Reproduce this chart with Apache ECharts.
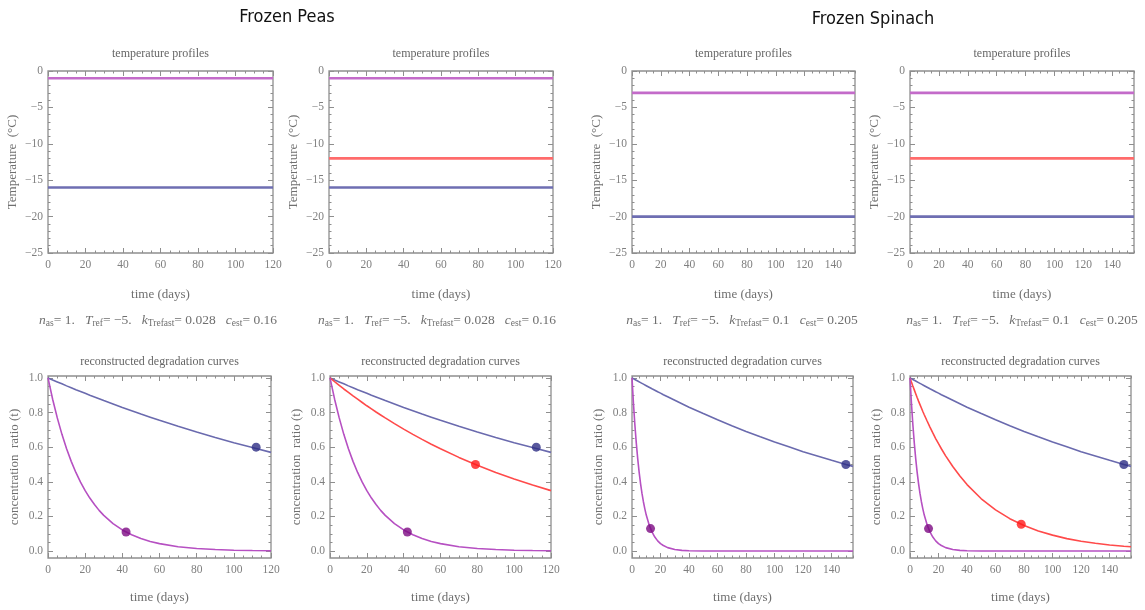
<!DOCTYPE html>
<html><head><meta charset="utf-8">
<script src="https://cdn.jsdelivr.net/npm/echarts@6/dist/echarts.min.js"></script>
<style>html,body{margin:0;padding:0;background:#fff}#c{width:1145px;height:610px}</style>
</head><body><div id="c"></div>
<script>
// ---------------- DATA ----------------
const groupTitles = ['Frozen Peas', 'Frozen Spinach'];
const paramPeas = ['1.', '\u22125.', '0.028', '0.16'];
const paramSpinach = ['1.', '\u22125.', '0.1', '0.205'];

// temperature profiles (constant storage temperatures)
const peasTempDays = [0, 120];
const peasTempPurple = [-1, -1];
const peasTempRed = [-12, -12];
const peasTempBlue = [-16, -16];
const spinachTempDays = [0, 155];
const spinachTempPurple = [-3, -3];
const spinachTempRed = [-12, -12];
const spinachTempBlue = [-20, -20];

// reconstructed degradation curves
const peasDays = [0,2.5,5,7.5,10,12.5,15,17.5,20,22.5,25,27.5,30,35,40,45,50,55,60,70,80,90,100,110,120];
const peasBlue = [1,0.988,0.977,0.966,0.954,0.943,0.932,0.922,0.911,0.900,0.890,0.880,0.869,0.849,0.829,0.810,0.791,0.773,0.755,0.721,0.688,0.656,0.626,0.598,0.570];
const peasRed = [1,0.978,0.957,0.936,0.916,0.896,0.877,0.858,0.839,0.821,0.803,0.786,0.769,0.736,0.704,0.674,0.645,0.617,0.591,0.541,0.496,0.454,0.416,0.381,0.349];
const peasPurple = [1,0.877,0.769,0.674,0.591,0.518,0.454,0.398,0.349,0.306,0.269,0.235,0.206,0.159,0.122,0.094,0.072,0.055,0.043,0.025,0.015,0.009,0.005,0.003,0.002];
const peasBlueDot = [112, 0.60];
const peasRedDot = [79, 0.50];
const peasPurpleDot = [42, 0.11];

const spinachDays = [0,1,2,3,4,5,6,7,8,9,10,12,14,16,18,20,22,25,30,35,40,50,60,70,80,90,100,110,120,130,140,150,155];
const spinachBlue = [1,0.995,0.991,0.986,0.982,0.977,0.973,0.968,0.964,0.959,0.955,0.946,0.937,0.929,0.920,0.912,0.903,0.891,0.871,0.851,0.831,0.794,0.758,0.724,0.691,0.660,0.630,0.602,0.574,0.549,0.524,0.500,0.489];
const spinachRed = [1,0.976,0.953,0.931,0.909,0.887,0.866,0.846,0.826,0.806,0.787,0.751,0.716,0.682,0.650,0.620,0.591,0.550,0.488,0.433,0.384,0.302,0.238,0.187,0.148,0.116,0.092,0.072,0.057,0.045,0.035,0.028,0.025];
const spinachPurple = [1,0.855,0.731,0.625,0.534,0.456,0.390,0.333,0.285,0.244,0.208,0.152,0.111,0.081,0.059,0.043,0.032,0.020,0.009,0.004,0.002,0,0,0,0,0,0,0,0,0,0,0,0];
const spinachBlueDot = [150, 0.50];
const spinachRedDot = [78, 0.155];
const spinachPurpleDot = [13, 0.13];

// tick labels
const peasXTicks = [0,20,40,60,80,100,120];
const spinachXTicks = [0,20,40,60,80,100,120,140];
const tempYTicks = [-25,-20,-15,-10,-5,0];
const concYTicks = [0,0.2,0.4,0.6,0.8,1.0];

// ---------------- STYLE / LAYOUT ----------------
const SERIF = '"Liberation Serif","DejaVu Serif",serif';
const C = {
  tPurple:'#c36bc9', tRed:'#ff6b6b', tBlue:'#6e6eb2',
  dPurple:'#b650c2', dRed:'#ff4a4a', dBlue:'#6a6aae',
  mPurple:'#7c0a82', mRed:'#ff1a1a', mBlue:'#2e2e84',
  text:'#7f7f7f', frame:'#8e8e8e'
};
const grids=[], xAxes=[], yAxes=[], series=[], graphics=[];
function steps(a,b,s){const r=[];for(let v=a;v<=b+1e-9;v+=s)r.push(+v.toFixed(4));return r;}
const minus = v => String(v).replace('-', '\u2212');

function addPanel(rect, xMax, xMajor, xMinorStep, yMin, yMax, yMajor, yMinorStep, yName, yFmt, yGap, xGap) {
  const g = grids.length;
  grids.push({left:rect[0], top:rect[1], width:rect[2], height:rect[3], show:true,
    borderColor:C.frame, borderWidth:1.3, backgroundColor:'rgba(0,0,0,0)'});
  const xMinor = steps(0, xMax, xMinorStep);
  const yMinor = steps(yMin<0&&yMin>-1 ? 0 : yMin, yMax, yMinorStep);
  const tickStyle = {color:C.frame, width:1};
  const noLine = {show:false, onZero:false};
  const xi = xAxes.length;
  ['bottom','top'].forEach((pos, k) => {
    xAxes.push({type:'value', gridIndex:g, min:0, max:xMax, position:pos,
      splitLine:{show:false}, axisLine:noLine,
      axisTick:{show:true, inside:true, length:5, customValues:xMajor, lineStyle:tickStyle},
      axisLabel:{show:k===0, customValues:xMajor, color:C.text, fontFamily:SERIF, fontSize:11.5, margin:6},
      name: k===0 ? 'time (days)' : '', nameLocation:'middle', nameGap:xGap,
      nameTextStyle:{color:'#6f6f6f', fontFamily:SERIF, fontSize:13}});
    xAxes.push({type:'value', gridIndex:g, min:0, max:xMax, position:pos,
      splitLine:{show:false}, axisLine:noLine, axisLabel:{show:false},
      axisTick:{show:true, inside:true, length:2.5, customValues:xMinor, lineStyle:tickStyle}});
  });
  const yi = yAxes.length;
  ['left','right'].forEach((pos, k) => {
    yAxes.push({type:'value', gridIndex:g, min:yMin, max:yMax, position:pos,
      splitLine:{show:false}, axisLine:noLine,
      axisTick:{show:true, inside:true, length:5, customValues:yMajor, lineStyle:tickStyle},
      axisLabel:{show:k===0, customValues:yMajor, color:C.text, fontFamily:SERIF, fontSize:11.5, margin:5, formatter:yFmt},
      name: k===0 ? yName : '', nameLocation:'middle', nameGap:yGap,
      nameTextStyle:{color:'#6f6f6f', fontFamily:SERIF, fontSize:13}});
    yAxes.push({type:'value', gridIndex:g, min:yMin, max:yMax, position:pos,
      splitLine:{show:false}, axisLine:noLine, axisLabel:{show:false},
      axisTick:{show:true, inside:true, length:2.5, customValues:yMinor, lineStyle:tickStyle}});
  });
  return {xi, yi, cx: rect[0] + rect[2]/2};
}
function line(p, xs, ys, color, width, z) {
  series.push({type:'line', xAxisIndex:p.xi, yAxisIndex:p.yi, showSymbol:false, silent:true,
    smooth:false, z:z||2,
    lineStyle:{color, width}, data: xs.map((x,i)=>[x, ys[i]])});
}
function dot(p, pt, color) {
  series.push({type:'scatter', xAxisIndex:p.xi, yAxisIndex:p.yi, symbol:'circle', symbolSize:9, z:5,
    itemStyle:{color}, data:[pt]});
}
function label(x, y, text, size, color, font) {
  graphics.push({type:'text', x, y, style:{text, align:'center', verticalAlign:'middle',
    fontSize:size, fill:color, fontFamily:font||SERIF}});
}
function params(x, y, vals) {
  const t = '{i|n}{s|as}{n|= ' + vals[0] + '   }{i|T}{s|ref}{n|= ' + vals[1] + '   }{i|k}{s|Trefast}{n|= ' + vals[2] + '   }{i|c}{s|est}{n|= ' + vals[3] + '}';
  graphics.push({type:'text', x, y, style:{text:t, align:'center', verticalAlign:'middle',
    rich:{
      i:{fontStyle:'italic', fontSize:13.5, fontFamily:SERIF, fill:'#6f6f6f', lineHeight:18, verticalAlign:'middle'},
      n:{fontSize:13.5, fontFamily:SERIF, fill:'#6f6f6f', lineHeight:18, verticalAlign:'middle'},
      s:{fontSize:9.5, fontFamily:SERIF, fill:'#6f6f6f', lineHeight:18, padding:[7,0,0,0], verticalAlign:'middle'}
    }}});
}

const tempFmt = v => minus(v);
const concFmt = v => v.toFixed(1);
const T = 'Temperature  (\u00B0C)';
const CR = 'concentration  ratio (t)';

// ---- top row: temperature profiles ----
const p1 = addPanel([48,71,225,182], 120, peasXTicks, 5, -25, 0, tempYTicks, 1, T, tempFmt, 29, 35);
const p2 = addPanel([329,71,224,182], 120, peasXTicks, 5, -25, 0, tempYTicks, 1, T, tempFmt, 29, 35);
const p3 = addPanel([632,71,223,182], 155, spinachXTicks, 5, -25, 0, tempYTicks, 1, T, tempFmt, 29, 35);
const p4 = addPanel([910,71,224,182], 155, spinachXTicks, 5, -25, 0, tempYTicks, 1, T, tempFmt, 29, 35);
// ---- bottom row: degradation curves ----
const p5 = addPanel([48,376,223,182], 120, peasXTicks, 5, -0.04, 1.011, concYTicks, 0.05, CR, concFmt, 27, 33);
const p6 = addPanel([330,376,221,182], 120, peasXTicks, 5, -0.04, 1.011, concYTicks, 0.05, CR, concFmt, 27, 33);
const p7 = addPanel([632,376,221,182], 155, spinachXTicks, 5, -0.04, 1.011, concYTicks, 0.05, CR, concFmt, 27, 33);
const p8 = addPanel([910,376,221,182], 155, spinachXTicks, 5, -0.04, 1.011, concYTicks, 0.05, CR, concFmt, 27, 33);

line(p1, peasTempDays, peasTempPurple, C.tPurple, 2.6);
line(p1, peasTempDays, peasTempBlue, C.tBlue, 2.6);
line(p2, peasTempDays, peasTempPurple, C.tPurple, 2.6);
line(p2, peasTempDays, peasTempRed, C.tRed, 2.6);
line(p2, peasTempDays, peasTempBlue, C.tBlue, 2.6);
line(p3, spinachTempDays, spinachTempPurple, C.tPurple, 2.6);
line(p3, spinachTempDays, spinachTempBlue, C.tBlue, 2.6);
line(p4, spinachTempDays, spinachTempPurple, C.tPurple, 2.6);
line(p4, spinachTempDays, spinachTempRed, C.tRed, 2.6);
line(p4, spinachTempDays, spinachTempBlue, C.tBlue, 2.6);

line(p5, peasDays, peasBlue, C.dBlue, 1.6); line(p5, peasDays, peasPurple, C.dPurple, 1.6);
dot(p5, peasBlueDot, C.mBlue); dot(p5, peasPurpleDot, C.mPurple);
line(p6, peasDays, peasBlue, C.dBlue, 1.6); line(p6, peasDays, peasRed, C.dRed, 1.6); line(p6, peasDays, peasPurple, C.dPurple, 1.6);
dot(p6, peasBlueDot, C.mBlue); dot(p6, peasRedDot, C.mRed); dot(p6, peasPurpleDot, C.mPurple);
line(p7, spinachDays, spinachBlue, C.dBlue, 1.6); line(p7, spinachDays, spinachPurple, C.dPurple, 1.6);
dot(p7, spinachBlueDot, C.mBlue); dot(p7, spinachPurpleDot, C.mPurple);
line(p8, spinachDays, spinachBlue, C.dBlue, 1.6); line(p8, spinachDays, spinachRed, C.dRed, 1.6); line(p8, spinachDays, spinachPurple, C.dPurple, 1.6);
dot(p8, spinachBlueDot, C.mBlue); dot(p8, spinachRedDot, C.mRed); dot(p8, spinachPurpleDot, C.mPurple);

// titles
[p1,p2,p3,p4].forEach(p => label(p.cx, 54, 'temperature profiles', 12, '#666666'));
[p5,p6,p7,p8].forEach(p => label(p.cx, 362, 'reconstructed degradation curves', 12, '#666666'));
params(158, 320, paramPeas); params(437, 320, paramPeas);
params(742, 320, paramSpinach); params(1022, 320, paramSpinach);
label(287, 17, groupTitles[0], 18, '#111111', '"Liberation Sans Narrow","DejaVu Sans Condensed",sans-serif');
label(873, 19, groupTitles[1], 18, '#111111', '"Liberation Sans Narrow","DejaVu Sans Condensed",sans-serif');

const chart = echarts.init(document.getElementById('c'), null, {renderer:'canvas'});
chart.setOption({animation:false, backgroundColor:'#ffffff',
  grid:grids, xAxis:xAxes, yAxis:yAxes, series, graphic:graphics});
</script></body></html>
